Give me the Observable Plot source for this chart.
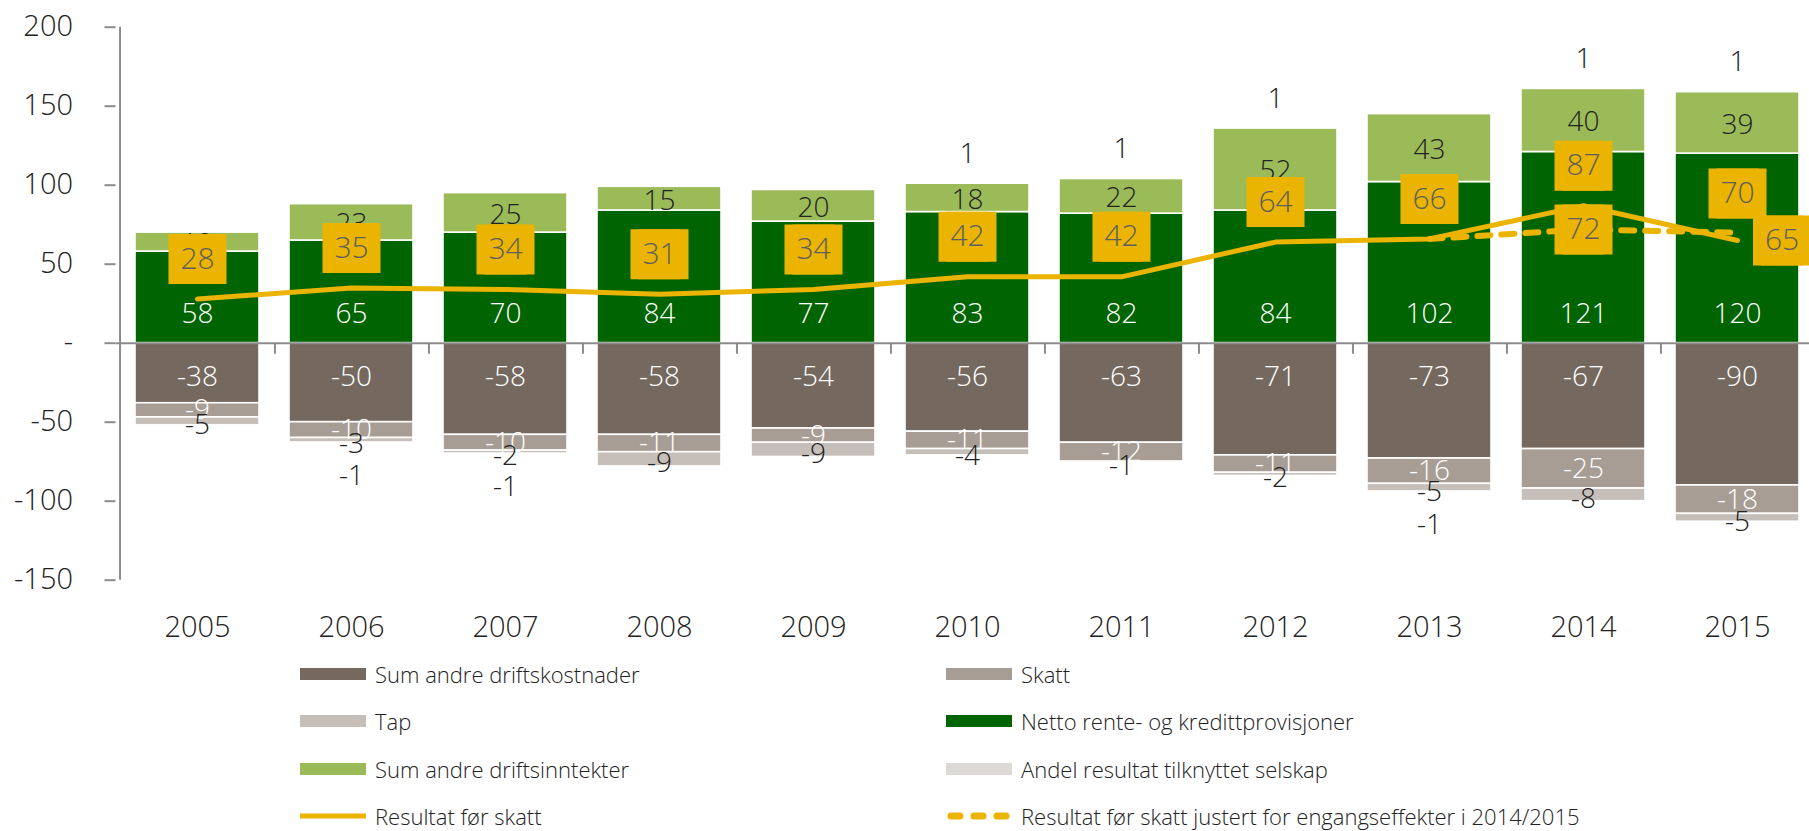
<!DOCTYPE html>
<html><head><meta charset="utf-8">
<script src="https://cdn.jsdelivr.net/npm/d3@7"></script>
<script src="https://cdn.jsdelivr.net/npm/@observablehq/plot@0.6"></script>
<style>
body{margin:0;background:#fff;font-family:"Open Sans",sans-serif;}
#wrap{position:relative;width:1809px;height:831px;overflow:hidden;background:#fff}
#chart svg{display:block}
.leg{position:absolute;height:30px;display:flex;align-items:center;font-size:22px;color:#222;font-weight:300;white-space:nowrap}
.sw{width:66px;height:12px;margin-right:9px;flex:none}
</style></head><body><div id="wrap"><div id="chart"></div></div>
<script>
// ---- data ----
const years = ["2005","2006","2007","2008","2009","2010","2011","2012","2013","2014","2015"];
const netto = [58,65,70,84,77,83,82,84,102,121,120];
const andreInntekter = [12,23,25,15,20,18,22,52,43,40,39];
const driftskostnader = [-38,-50,-58,-58,-54,-56,-63,-71,-73,-67,-90];
const skatt = [-9,-10,-10,-11,-9,-11,-12,-11,-16,-25,-18];
const tap = [-5,-3,-2,-9,-9,-4,-1,-2,-5,-8,-5];
const andel = [0,-1,-1,0,0,1,1,1,-1,1,1];
const resultat = [28,35,34,31,34,42,42,64,66,87,65];
const justertYears = ["2013","2014","2015"];
const justert = [66,72,70];
const yTicks = [-150,-100,-50,0,50,100,150,200];

const names = {
  drift: "Sum andre driftskostnader",
  skatt: "Skatt",
  tap: "Tap",
  netto: "Netto rente- og kredittprovisjoner",
  andre: "Sum andre driftsinntekter",
  andel: "Andel resultat tilknyttet selskap",
  res: "Resultat før skatt",
  just: "Resultat før skatt justert for engangseffekter i 2014/2015"
};
const colors = {
  drift: "#75695F", skatt: "#A89D94", tap: "#C6BEB8", netto: "#006400",
  andre: "#9BBB59", andel: "#DDD9D4", line: "#EBB400"
};

// stacking (input order: positive side netto, andre, andel; negative side drift, skatt, tap, andel)
const order = [["netto", netto], ["andre", andreInntekter], ["drift", driftskostnader], ["skatt", skatt], ["tap", tap], ["andel", andel]];
const rows = [];
years.forEach((yr, i) => {
  let pos = 0, neg = 0;
  for (const [key, arr] of order) {
    const v = arr[i];
    if (v === 0) continue;
    let y1, y2;
    if (v > 0) { y1 = pos; y2 = pos + v; pos = y2; } else { y1 = neg; y2 = neg + v; neg = y2; }
    rows.push({year: yr, key, value: v, y1, y2});
  }
});
const byKey = k => rows.filter(r => r.key === k);

const resRows = years.map((y, i) => ({year: y, value: resultat[i]}));
const justRows = justertYears.map((y, i) => ({year: y, value: justert[i]}));

const font = "'Open Sans', sans-serif";
const step = (1819.4 - 115.5) / years.length;
const boxR = 50 / Math.sqrt(Math.PI);

function boxMarks(data, dx, dy) {
  return [
    Plot.dot(data, {x: "year", y: "value", symbol: "square", r: boxR, fill: colors.line, stroke: null, dx: dx - 4, dy}),
    Plot.dot(data, {x: "year", y: "value", symbol: "square", r: boxR, fill: colors.line, stroke: null, dx: dx + 4, dy}),
    Plot.text(data, {x: "year", y: "value", text: d => String(d.value), fill: "#5E5E5E", fontSize: 30, fontWeight: 300, dx, dy})
  ];
}

const chart = Plot.plot({
  width: 1809, height: 650,
  marginLeft: 115.5, marginRight: 0, marginTop: 26.7, marginBottom: 70.3,
  style: {fontFamily: font, background: "white"},
  x: {domain: years, range: [115.5, 1819.4], paddingInner: 0.193, paddingOuter: 0.0965, label: null},
  y: {domain: [-150, 200], label: null},
  marks: [
    Plot.barY(rows, {x: "year", y1: "y1", y2: "y2", fill: d => colors[d.key], stroke: "white", strokeWidth: 1.6}),
    Plot.ruleY([0], {stroke: "#8c8c8c", strokeWidth: 2}),
    Plot.ruleX(years.slice(0, -1), {x: d => d, dx: step / 2, y1: 0, y2: -7, stroke: "#8c8c8c", strokeWidth: 2}),
    Plot.ruleX([years[0]], {x: d => d, dx: -step / 2, y1: -150, y2: 200, stroke: "#8c8c8c", strokeWidth: 2}),
    Plot.axisY({ticks: yTicks, tickSize: 11, tickPadding: 32, tickFormat: d => d === 0 ? "-" : String(d), fontSize: 29, fontWeight: 300, stroke: "#8c8c8c", strokeWidth: 2, fill: "#222", label: null}),
    Plot.axisX({tickSize: 0, tickPadding: 36, fontSize: 29, fontWeight: 300, fill: "#222", label: null}),
    // bar labels
    Plot.text(byKey("netto"), {x: "year", y: () => 0, dy: -29.5, text: d => String(d.value), fill: "white", fontSize: 28, fontWeight: 300}),
    Plot.text(byKey("drift"), {x: "year", y: () => 0, dy: 34, text: d => String(d.value), fill: "white", fontSize: 28, fontWeight: 300}),
    Plot.text(byKey("andre"), {x: "year", y: d => (d.y1 + d.y2) / 2, dy: 2, text: d => String(d.value), fill: "#222", fontSize: 28, fontWeight: 300}),
    Plot.text(byKey("skatt"), {x: "year", y: d => (d.y1 + d.y2) / 2, dy: 0, text: d => String(d.value), fill: "white", fontSize: 28, fontWeight: 300}),
    Plot.text(byKey("tap"), {x: "year", y: d => (d.y1 + d.y2) / 2, dy: 4, text: d => String(d.value), fill: "#222", fontSize: 28, fontWeight: 300}),
    Plot.text(byKey("andel").filter(d => d.value > 0), {x: "year", y: "y2", dy: -28, text: d => String(d.value), fill: "#222", fontSize: 28, fontWeight: 300}),
    Plot.text(byKey("andel").filter(d => d.value < 0), {x: "year", y: "y2", dy: 32, text: d => String(d.value), fill: "#222", fontSize: 28, fontWeight: 300}),
    // lines
    Plot.line(justRows, {x: "year", y: "value", stroke: colors.line, strokeWidth: 6, strokeDasharray: "13,11", strokeLinecap: "round"}),
    Plot.line(resRows, {x: "year", y: "value", stroke: colors.line, strokeWidth: 5}),
    // boxed labels
    ...boxMarks(resRows.slice(0, -1), 0, -40),
    ...boxMarks(resRows.slice(-1), 44.5, 0),
    ...boxMarks(justRows.filter(d => d.year === "2014"), 0, 0),
    ...boxMarks(justRows.filter(d => d.year === "2015"), 0, -39)
  ]
});
document.getElementById("chart").appendChild(chart);

// legend
const wrap = document.getElementById("wrap");
const legendItems = [
  {col: 0, row: 0, key: "drift", type: "rect"},
  {col: 1, row: 0, key: "skatt", type: "rect"},
  {col: 0, row: 1, key: "tap", type: "rect"},
  {col: 1, row: 1, key: "netto", type: "rect"},
  {col: 0, row: 2, key: "andre", type: "rect"},
  {col: 1, row: 2, key: "andel", type: "rect"},
  {col: 0, row: 3, key: "res", type: "line"},
  {col: 1, row: 3, key: "just", type: "dash"}
];
const colX = [300, 946];
const rowY = [674, 721.3, 768.6, 816];
for (const it of legendItems) {
  const d = document.createElement("div");
  d.className = "leg";
  d.style.left = colX[it.col] + "px";
  d.style.top = (rowY[it.row] - 15) + "px";
  let sw;
  if (it.type === "rect") {
    sw = `<div class="sw" style="background:${colors[it.key]}"></div>`;
  } else if (it.type === "line") {
    sw = `<svg width="66" height="12" style="margin-right:9px;flex:none"><line x1="0" x2="66" y1="6" y2="6" stroke="${colors.line}" stroke-width="5"/></svg>`;
  } else {
    sw = `<svg width="66" height="12" style="margin-right:9px;flex:none"><line x1="5" x2="62" y1="6" y2="6" stroke="${colors.line}" stroke-width="7" stroke-linecap="round" stroke-dasharray="9,14"/></svg>`;
  }
  d.innerHTML = sw + `<span>${names[it.key]}</span>`;
  wrap.appendChild(d);
}
</script></body></html>
